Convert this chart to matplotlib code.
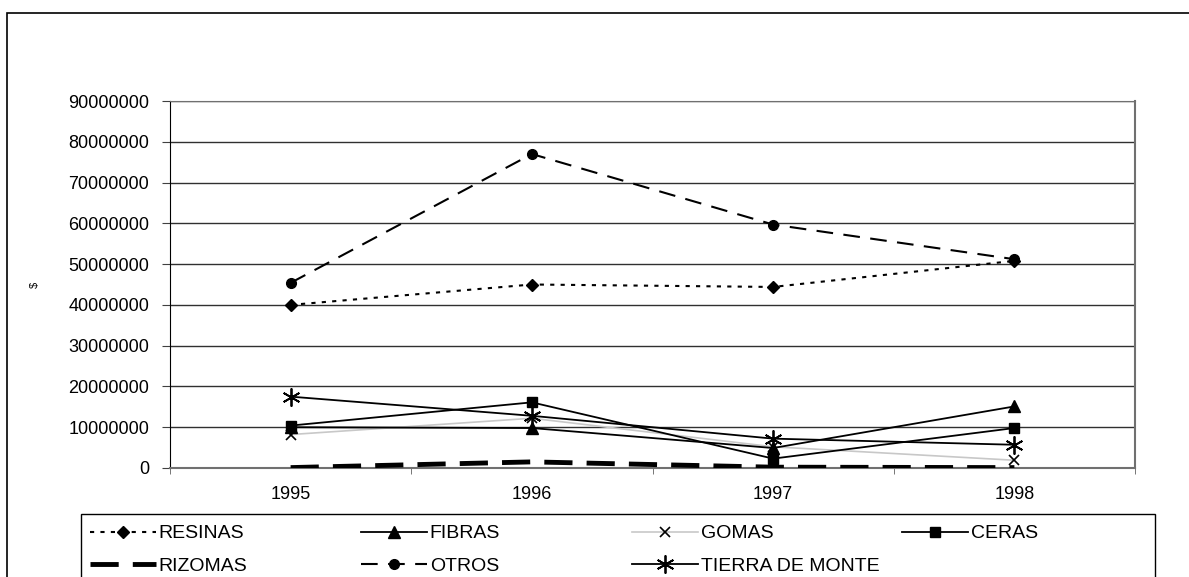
import matplotlib
matplotlib.use("Agg")
import matplotlib.pyplot as plt
import matplotlib.patches as mpatches
import numpy as np

# ---- data ----
years = ["1995", "1996", "1997", "1998"]

resinas = [40000000, 45000000, 44400000, 50800000]
fibras = [10000000, 9800000, 4900000, 15100000]
gomas = [8200000, 12200000, 5200000, 1900000]
ceras = [10400000, 16100000, 2300000, 9800000]
rizomas = [100000, 1500000, 200000, 100000]
otros = [45400000, 77000000, 59700000, 51200000]
tierra = [17500000, 12800000, 7200000, 5700000]

plt.rcParams["font.family"] = ["Liberation Sans", "DejaVu Sans"]

W, H = 1189, 577
fig = plt.figure(figsize=(W / 100, H / 100), dpi=100)
ax = fig.add_axes([170 / W, 1 - 468 / H, (1135 - 170) / W, (468 - 101) / H])

ind = np.arange(len(years))

l_res, = ax.plot(ind, resinas, color="black", lw=1.5, ls=(0, (2, 3)),
                 marker="D", ms=6, label="RESINAS", zorder=5)
l_fib, = ax.plot(ind, fibras, color="black", lw=1.3, ls="-",
                 marker="^", ms=8, label="FIBRAS", zorder=5)
l_gom, = ax.plot(ind, gomas, color="#c8c8c8", lw=1.2, ls="-",
                 marker="x", ms=7, mec="black", mew=1.2, label="GOMAS", zorder=4)
l_cer, = ax.plot(ind, ceras, color="black", lw=1.3, ls="-",
                 marker="s", ms=7, label="CERAS", zorder=5)
l_riz, = ax.plot(ind, rizomas, color="black", lw=3.5, ls=(0, (5.8, 2.9)),
                 label="RIZOMAS", zorder=5)
l_otr, = ax.plot(ind, otros, color="black", lw=1.5, ls=(0, (8, 5)),
                 marker="o", ms=7, label="OTROS", zorder=5)
l_tie, = ax.plot(ind, tierra, color="black", lw=1.3, ls="-",
                 marker=(6, 2, 0), ms=13, mew=1.3, label="TIERRA DE MONTE", zorder=5)

# axes, grid
ax.set_xlim(-0.5, 3.5)
ax.set_ylim(0, 90000000)
ax.set_yticks(np.arange(0, 90000001, 10000000))
ax.set_yticklabels(["%d" % v for v in np.arange(0, 90000001, 10000000)])
ax.yaxis.grid(True, color="#303030", lw=1)
ax.set_axisbelow(True)

ax.set_xticks(ind)
ax.set_xticklabels(years)
ax.set_xticks(np.arange(-0.5, 4, 1), minor=True)
ax.tick_params(axis="x", which="major", length=0, pad=13, labelsize=13)
ax.tick_params(axis="x", which="minor", length=4, direction="out", color="#606060")
ax.tick_params(axis="y", length=6, pad=9, labelsize=13, color="#404040")

ax.spines["left"].set_color("black")
for s in ("top", "right", "bottom"):
    ax.spines[s].set_color("#707070")
ax.spines["bottom"].set_linewidth(1.5)
ax.spines["right"].set_linewidth(1.5)

fig.text(35 / W, 1 - 285 / H, "$", rotation=90, fontsize=8, ha="center", va="center")

# legend: one column per legend so columns sit at even spacing
leg_top = 1 - 514 / H
columns = [[l_res, l_riz], [l_fib, l_otr], [l_gom, l_tie], [l_cer]]
col_x = [84, 355, 626, 896]
for handles, x in zip(columns, col_x):
    lg = fig.legend(handles=handles, loc="upper left",
                    bbox_to_anchor=(x / W, leg_top - 5 / H),
                    fontsize=14, frameon=False, handlelength=3.4,
                    handletextpad=0.15, labelspacing=0.75,
                    borderpad=0.3, borderaxespad=0)

fig.patches.append(mpatches.Rectangle((81 / W, -0.2), (1155 - 81) / W, leg_top + 0.2,
                                      transform=fig.transFigure, fill=False,
                                      edgecolor="black", lw=1.0))

# outer chart border
fig.patches.append(mpatches.Rectangle((7 / W, -0.2), 1.2, 1.2 - 13 / H,
                                      transform=fig.transFigure, fill=False,
                                      edgecolor="black", lw=1.2))

fig.savefig("out.png", dpi=100)
